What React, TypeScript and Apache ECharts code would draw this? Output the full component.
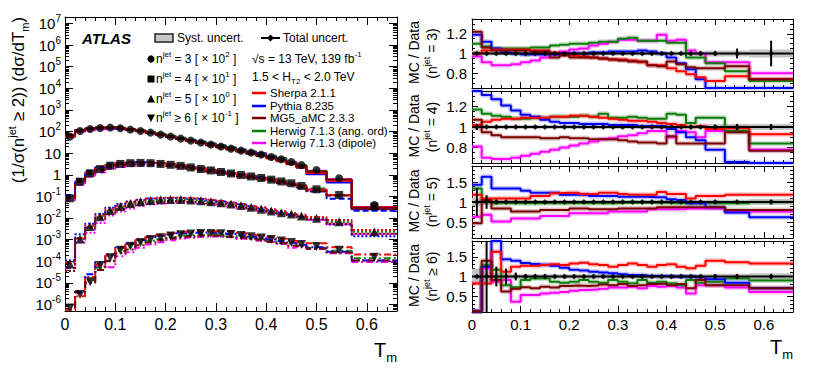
import React, { useEffect, useRef } from 'react';
import * as echarts from 'echarts';

// ---------------- data ----------------
const binEdges = [0, 0.02, 0.04, 0.06, 0.08, 0.1, 0.12, 0.14, 0.16, 0.18, 0.2, 0.22, 0.24, 0.26, 0.28, 0.3, 0.32, 0.34, 0.36, 0.38, 0.4, 0.42, 0.44, 0.46, 0.48, 0.52, 0.57, 0.66];
const xTickLabels = [0, 0.1, 0.2, 0.3, 0.4, 0.5, 0.6];
const logTickExponents = [-6, -5, -4, -3, -2, -1, 0, 1, 2, 3, 4, 5, 6, 7];
const ratioTicksNarrow = [0.8, 1, 1.2];
const ratioTicksWide = [0.5, 1, 1.5];

const generators = ['Sherpa 2.1.1', 'Pythia 8.235', 'MG5_aMC 2.3.3', 'Herwig 7.1.3 (ang. ord)', 'Herwig 7.1.3 (dipole)'];
const nJetLabels = ['n{sup|jet} = 3 [ × 10{sup|2} ]', 'n{sup|jet} = 4 [ × 10{sup|1} ]', 'n{sup|jet} = 5 [ × 10{sup|0} ]', 'n{sup|jet} ≥ 6 [ × 10{sup|-1} ]'];
const ratioTitles = ['(n{sup|jet} = 3)', '(n{sup|jet} = 4)', '(n{sup|jet} = 5)', '(n{sup|jet} ≥ 6)'];
const nJetScales = [1e2, 1e1, 1e0, 1e-1];

// normalised cross sections (1/sigma(n>=2)) dsigma/dTm, unscaled
const dataNj3 = [0.583, 1.07, 1.32, 1.47, 1.52, 1.42, 1.23, 1.07, 0.894, 0.721, 0.583, 0.471, 0.381, 0.308, 0.249, 0.201, 0.162, 0.131, 0.106, 0.0857, 0.0668, 0.0521, 0.0393, 0.0285, 0.0168, 0.00692, 0.000403];
const dataNj4 = [0.00822, 0.0482, 0.118, 0.186, 0.265, 0.318, 0.345, 0.355, 0.345, 0.318, 0.29, 0.258, 0.219, 0.186, 0.159, 0.135, 0.115, 0.0984, 0.0838, 0.0715, 0.0596, 0.0492, 0.0406, 0.0305, 0.0214, 0.0117, 0.00336];
const dataNj5 = [7.5e-5, 0.00108, 0.00408, 0.0116, 0.0224, 0.0344, 0.0472, 0.0573, 0.065, 0.0702, 0.0723, 0.0723, 0.0686, 0.0637, 0.0573, 0.0514, 0.0448, 0.0382, 0.0316, 0.0255, 0.0213, 0.0177, 0.0155, 0.0125, 0.00977, 0.00681, 0.00234];
const dataNj6 = [6.9e-6, 2.92e-5, 1.14e-4, 6.41e-4, 1.46e-3, 3.24e-3, 4.95e-3, 7.43e-3, 0.0102, 0.0124, 0.0148, 0.017, 0.0184, 0.0194, 0.0194, 0.019, 0.0174, 0.0156, 0.0136, 0.012, 0.0102, 0.00871, 0.00743, 0.006, 0.00484, 0.00324, 0.00153];

// MC / Data ratios
const sherpaNj3 = [1.00, 1.03, 1.04, 1.04, 1.04, 1.04, 1.03, 1.03, 1.01, 0.99, 0.98, 0.97, 0.96, 0.95, 0.94, 0.94, 0.93, 0.91, 0.88, 0.88, 0.85, 0.82, 0.79, 0.76, 0.72, 0.77, 0.74];
const pythiaNj3 = [1.19, 1.12, 1.05, 1.01, 1.00, 0.99, 0.99, 0.99, 0.99, 1.00, 1.00, 1.00, 1.01, 1.01, 1.02, 1.02, 1.02, 1.03, 1.02, 1.00, 0.96, 0.90, 0.84, 0.74, 0.64, 0.64, 0.64];
const mg5Nj3 = [1.22, 1.06, 1.03, 1.03, 1.03, 1.03, 1.02, 1.02, 0.96, 0.98, 0.96, 0.96, 0.96, 0.95, 0.94, 0.93, 0.92, 0.92, 0.88, 0.87, 0.92, 0.89, 0.86, 0.85, 0.85, 0.87, 0.74];
const herwigAngNj3 = [1.10, 1.07, 1.05, 1.05, 1.05, 1.05, 1.06, 1.06, 1.08, 1.09, 1.10, 1.10, 1.11, 1.12, 1.12, 1.15, 1.16, 1.13, 1.13, 1.13, 1.11, 1.11, 0.96, 0.96, 0.90, 0.82, 0.72];
const herwigDipNj3 = [0.97, 0.91, 0.88, 0.88, 0.89, 0.91, 0.93, 0.96, 0.99, 1.02, 1.04, 1.05, 1.08, 1.10, 1.12, 1.14, 1.14, 1.13, 1.13, 1.19, 1.13, 1.14, 1.03, 1.00, 0.91, 0.91, 0.80];

const sherpaNj4 = [1.02, 1.05, 1.07, 1.08, 1.08, 1.09, 1.09, 1.09, 1.10, 1.10, 1.11, 1.11, 1.10, 1.09, 1.08, 1.07, 1.06, 1.06, 1.05, 1.04, 1.03, 1.02, 1.00, 1.01, 0.98, 0.99, 0.93];
const pythiaNj4 = [1.40, 1.31, 1.27, 1.21, 1.16, 1.12, 1.10, 1.07, 1.05, 1.04, 1.04, 1.03, 1.03, 1.03, 1.02, 1.02, 1.02, 1.01, 1.01, 1.01, 0.98, 0.95, 0.90, 0.87, 0.78, 0.66, 0.64];
const mg5Nj4 = [1.07, 0.95, 0.92, 0.90, 0.90, 0.90, 0.90, 0.89, 0.89, 0.90, 0.89, 0.89, 0.88, 0.88, 0.88, 0.87, 0.86, 0.85, 0.85, 0.84, 0.91, 0.84, 0.84, 0.84, 0.84, 0.95, 0.77];
const herwigAngNj4 = [1.17, 1.13, 1.11, 1.10, 1.08, 1.08, 1.09, 1.09, 1.10, 1.10, 1.10, 1.11, 1.10, 1.13, 1.09, 1.09, 1.10, 1.09, 1.08, 1.08, 1.13, 1.12, 1.04, 1.09, 1.09, 0.96, 0.84];
const herwigDipNj4 = [0.81, 0.70, 0.69, 0.69, 0.70, 0.72, 0.74, 0.76, 0.78, 0.80, 0.82, 0.84, 0.86, 0.88, 0.89, 0.91, 0.92, 0.94, 0.96, 0.96, 0.90, 0.96, 0.95, 0.90, 0.96, 0.96, 0.78];

const sherpaNj5 = [1.18, 1.09, 1.09, 1.09, 1.09, 1.09, 1.15, 1.15, 1.22, 1.23, 1.23, 1.20, 1.20, 1.23, 1.23, 1.20, 1.18, 1.18, 1.18, 1.25, 1.20, 1.20, 1.09, 1.15, 1.15, 1.18, 1.18];
const pythiaNj5 = [1.43, 1.63, 1.34, 1.34, 1.34, 1.28, 1.23, 1.23, 1.23, 1.18, 1.18, 1.18, 1.15, 1.15, 1.15, 1.13, 1.13, 1.13, 1.12, 1.12, 1.07, 1.05, 0.97, 0.97, 0.87, 0.74, 0.62];
const mg5Nj5 = [0.47, 1.05, 0.84, 0.84, 0.76, 0.76, 0.76, 0.80, 0.80, 0.80, 0.84, 0.84, 0.82, 0.82, 0.82, 0.84, 0.84, 0.84, 0.84, 0.87, 0.87, 0.87, 0.87, 0.87, 0.87, 0.80, 0.80];
const herwigAngNj5 = [1.34, 1.01, 0.97, 0.97, 0.97, 0.97, 0.97, 0.97, 0.97, 0.97, 0.97, 0.97, 0.97, 0.97, 0.97, 0.98, 0.98, 0.98, 0.98, 0.98, 0.97, 0.97, 0.97, 0.97, 0.97, 0.97, 1.00];
const herwigDipNj5 = [0.63, 0.68, 0.51, 0.51, 0.59, 0.59, 0.59, 0.65, 0.65, 0.65, 0.72, 0.72, 0.72, 0.72, 0.76, 0.76, 0.76, 0.76, 0.82, 0.82, 0.82, 0.82, 0.84, 0.84, 0.84, 0.76, 0.76];

const sherpaNj6 = [0.82, 0.82, 1.63, 1.12, 1.25, 1.27, 1.27, 1.29, 1.31, 1.29, 1.33, 1.35, 1.31, 1.29, 1.25, 1.29, 1.33, 1.29, 1.25, 1.29, 1.31, 1.25, 1.21, 1.27, 1.40, 1.36, 1.33];
const pythiaNj6 = [0.12, 1.25, 2.20, 1.44, 1.40, 1.34, 1.32, 1.30, 1.27, 1.22, 1.17, 1.15, 1.12, 1.10, 1.08, 1.06, 1.04, 1.03, 1.01, 1.01, 1.00, 1.00, 1.00, 0.98, 0.93, 0.84, 0.70];
const mg5Nj6 = [0.12, 1.40, 0.91, 0.62, 0.69, 0.73, 0.70, 0.74, 0.72, 0.76, 0.77, 0.76, 0.77, 0.80, 0.78, 0.81, 0.76, 0.78, 0.81, 0.82, 0.78, 0.81, 0.70, 0.91, 0.78, 0.78, 0.70];
const herwigAngNj6 = [0.12, 1.30, 1.17, 0.78, 0.73, 0.91, 0.95, 0.95, 0.87, 0.84, 0.87, 0.91, 0.87, 0.84, 0.91, 0.87, 0.83, 0.91, 0.84, 0.87, 0.83, 0.78, 0.91, 0.84, 0.87, 0.95, 0.90];
const herwigDipNj6 = [0.12, 1.20, 0.87, 0.91, 0.36, 0.53, 0.53, 0.57, 0.59, 0.61, 0.64, 0.66, 0.67, 0.69, 0.72, 0.72, 0.74, 0.70, 0.76, 0.74, 0.76, 0.72, 0.57, 0.78, 0.78, 0.72, 0.61];

// relative systematic (band) and total (error bar) uncertainties of the data
const systNj3 = [0.03, 0.02, 0.02, 0.02, 0.02, 0.02, 0.02, 0.02, 0.02, 0.02, 0.02, 0.02, 0.02, 0.02, 0.02, 0.02, 0.02, 0.02, 0.02, 0.02, 0.02, 0.02, 0.02, 0.02, 0.03, 0.03, 0.04];
const systNj4 = [0.03, 0.02, 0.02, 0.02, 0.02, 0.02, 0.02, 0.02, 0.02, 0.02, 0.02, 0.02, 0.02, 0.02, 0.02, 0.02, 0.02, 0.02, 0.02, 0.02, 0.02, 0.02, 0.02, 0.02, 0.03, 0.03, 0.03];
const systNj5 = [0.10, 0.08, 0.06, 0.05, 0.05, 0.05, 0.05, 0.05, 0.05, 0.05, 0.05, 0.05, 0.05, 0.05, 0.05, 0.05, 0.05, 0.05, 0.05, 0.05, 0.05, 0.05, 0.05, 0.05, 0.06, 0.06, 0.07];
const systNj6 = [0.20, 0.15, 0.10, 0.08, 0.07, 0.06, 0.06, 0.06, 0.06, 0.06, 0.06, 0.06, 0.06, 0.06, 0.06, 0.06, 0.06, 0.06, 0.06, 0.06, 0.06, 0.06, 0.06, 0.06, 0.07, 0.07, 0.08];
const errNj3 = [0.015, 0.01, 0.01, 0.01, 0.01, 0.01, 0.01, 0.01, 0.01, 0.01, 0.01, 0.01, 0.01, 0.01, 0.01, 0.01, 0.01, 0.01, 0.01, 0.01, 0.01, 0.01, 0.015, 0.02, 0.02, 0.05, 0.13];
const errNj4 = [0.03, 0.01, 0.01, 0.01, 0.01, 0.01, 0.01, 0.01, 0.01, 0.01, 0.01, 0.01, 0.01, 0.01, 0.01, 0.01, 0.01, 0.01, 0.01, 0.01, 0.01, 0.01, 0.015, 0.015, 0.02, 0.03, 0.03];
const errNj5 = [0.35, 0.17, 0.06, 0.04, 0.03, 0.03, 0.03, 0.03, 0.03, 0.03, 0.03, 0.03, 0.03, 0.03, 0.03, 0.03, 0.03, 0.03, 0.03, 0.03, 0.03, 0.03, 0.03, 0.03, 0.04, 0.04, 0.05];
const errNj6 = [0, 1.2, 0.25, 0.2, 0.1, 0.06, 0.05, 0.05, 0.04, 0.04, 0.04, 0.04, 0.04, 0.04, 0.04, 0.04, 0.04, 0.04, 0.04, 0.04, 0.04, 0.04, 0.04, 0.04, 0.05, 0.06, 0.06];

// ---------------- styling ----------------
const FONT = '"Liberation Sans", Arial, Helvetica, sans-serif';
const genColors = ['#ff0000', '#0000ff', '#7a0000', '#0b7d0b', '#ff00ff'];
const nJetDash: any[] = ['solid', [6, 3], [2, 2], [7, 3, 2, 3]];
const nJetSymbol = ['circle', 'rect', 'triangle', 'triangle'];
const nJetSymbolSize = [8, 8, 9, 9];
const drawOrder = [4, 3, 1, 0, 2];

const dataSets = [dataNj3, dataNj4, dataNj5, dataNj6];
const ratioSets = [
  [sherpaNj3, pythiaNj3, mg5Nj3, herwigAngNj3, herwigDipNj3],
  [sherpaNj4, pythiaNj4, mg5Nj4, herwigAngNj4, herwigDipNj4],
  [sherpaNj5, pythiaNj5, mg5Nj5, herwigAngNj5, herwigDipNj5],
  [sherpaNj6, pythiaNj6, mg5Nj6, herwigAngNj6, herwigDipNj6],
];
const systSets = [systNj3, systNj4, systNj5, systNj6];
const errSets = [errNj3, errNj4, errNj5, errNj6];

const X_MAX = 0.66;
const Y_LOG_MIN = Math.log10(5e-7);
const Y_LOG_MAX = Math.log10(2e7);

const panels = [
  { top: 19, height: 69, min: 0.65, max: 1.35, major: ratioTicksNarrow, step: 0.05 },
  { top: 91, height: 72, min: 0.65, max: 1.35, major: ratioTicksNarrow, step: 0.05 },
  { top: 166, height: 72, min: 0.1, max: 1.9, major: ratioTicksWide, step: 0.1 },
  { top: 241, height: 71, min: 0.1, max: 1.9, major: ratioTicksWide, step: 0.1 },
];

function gridRange(a: number, b: number, step: number) {
  const out: number[] = [];
  for (let v = a; v <= b + 1e-9; v += step) out.push(Math.round(v * 1000) / 1000);
  return out;
}

function frame(gridIndex: number, dir: 'x' | 'y', min: number, max: number, major: number[], minor: number[], majorLen: number, minorLen: number, label: any) {
  const isX = dir === 'x';
  const posA = isX ? 'bottom' : 'left';
  const posB = isX ? 'top' : 'right';
  const base = { type: 'value', gridIndex, min, max, splitLine: { show: false }, minorTick: { show: false }, minorSplitLine: { show: false } };
  const line = (show: boolean) => ({ show, onZero: false, lineStyle: { color: '#000', width: 1 } });
  const tick = (vals: number[], len: number) => ({ show: true, inside: true, length: len, customValues: vals, lineStyle: { color: '#000', width: 1 } });
  return [
    { ...base, position: posA, axisLine: line(true), axisTick: tick(major, majorLen), axisLabel: label ? { show: true, customValues: major, ...label } : { show: false } },
    { ...base, position: posA, axisLine: line(false), axisTick: tick(minor, minorLen), axisLabel: { show: false } },
    { ...base, position: posB, axisLine: line(true), axisTick: tick(major, majorLen), axisLabel: { show: false } },
    { ...base, position: posB, axisLine: line(false), axisTick: tick(minor, minorLen), axisLabel: { show: false } },
  ];
}

function steps(vals: number[]) {
  const pts: number[][] = [];
  vals.forEach((v, i) => {
    pts.push([binEdges[i], v]);
    pts.push([binEdges[i + 1], v]);
  });
  return pts;
}

function txt(x: number, y: number, text: string, size: number, opts: any = {}) {
  const small = Math.round(size * 0.66);
  const align = opts.align || 'left';
  return {
    type: 'text',
    x,
    y,
    rotation: opts.rotation || 0,
    silent: true,
    z: 100,
    style: {
      text,
      fill: '#000',
      fontSize: size,
      fontFamily: FONT,
      fontWeight: opts.weight || 'normal',
      fontStyle: opts.fontStyle || 'normal',
      lineHeight: Math.round(size * 1.4),
      align,
      textAlign: align,
      verticalAlign: 'middle',
      textVerticalAlign: 'middle',
      rich: {
        sup: { fontSize: small, fontFamily: FONT, fill: '#000', lineHeight: small, verticalAlign: 'top' },
        sub: { fontSize: small, fontFamily: FONT, fill: '#000', lineHeight: small, verticalAlign: 'bottom' },
      },
    },
  };
}

function buildOption() {
  const grid: any[] = [];
  const xAxis: any[] = [];
  const yAxis: any[] = [];
  const series: any[] = [];
  const graphic: any[] = [];

  const xMinor = gridRange(0, X_MAX, 0.02).filter((v) => Math.abs(v * 10 - Math.round(v * 10)) > 1e-6);
  const logMinor: number[] = [];
  for (let n = -7; n <= 7; n++) for (let k = 2; k <= 9; k++) {
    const v = n + Math.log10(k);
    if (v > Y_LOG_MIN && v < Y_LOG_MAX) logMinor.push(v);
  }
  const centers = binEdges.slice(0, -1).map((e, i) => (e + binEdges[i + 1]) / 2);
  const fmtX = (v: number) => (v === 0 ? '0' : v.toFixed(1));

  // ---------- left panel ----------
  grid.push({ left: 65, top: 17, width: 332, height: 294, outerBoundsMode: 'none' });
  xAxis.push(...frame(0, 'x', 0, X_MAX, xTickLabels, xMinor, 8, 4, { fontSize: 16, fontFamily: FONT, color: '#000', margin: 5, formatter: fmtX }));
  yAxis.push(...frame(0, 'y', Y_LOG_MIN, Y_LOG_MAX, logTickExponents, logMinor, 8, 4, {
    fontSize: 15, fontFamily: FONT, color: '#000', margin: 4, lineHeight: 20,
    formatter: (v: number) => {
      const n = Math.round(v);
      if (n === 0) return '1';
      if (n === 1) return '10';
      return '10{s|' + n + '}';
    },
    rich: { s: { fontSize: 10, lineHeight: 10, verticalAlign: 'top', fontFamily: FONT, color: '#000' } },
  }));

  dataSets.forEach((d, k) => {
    drawOrder.forEach((g) => {
      const r = ratioSets[k][g];
      series.push({
        type: 'line', xAxisIndex: 0, yAxisIndex: 0, symbol: 'none', silent: true, z: 2 + (g === 2 ? 1 : 0),
        data: steps(d.map((v, i) => Math.log10(v * r[i] * nJetScales[k]))),
        lineStyle: { color: genColors[g], width: 2, type: nJetDash[k] },
      });
    });
  });
  dataSets.forEach((d, k) => {
    series.push({
      type: 'scatter', xAxisIndex: 0, yAxisIndex: 0, silent: true, z: 6,
      symbol: nJetSymbol[k], symbolRotate: k === 3 ? 180 : 0, symbolSize: nJetSymbolSize[k],
      itemStyle: { color: '#000' },
      data: d.map((v, i) => [centers[i], Math.log10(v * nJetScales[k])]),
    });
  });

  // ---------- ratio panels ----------
  panels.forEach((p, k) => {
    const gi = k + 1;
    const ax = 4 * gi;
    grid.push({ left: 472, top: p.top, width: 321, height: p.height, outerBoundsMode: 'none' });
    xAxis.push(...frame(gi, 'x', 0, X_MAX, xTickLabels, xMinor, 6, 3, k === 3 ? { fontSize: 15, fontFamily: FONT, color: '#000', margin: 5, formatter: fmtX } : null));
    const yMinor = gridRange(p.min, p.max, p.step).filter((v) => v > p.min + 1e-6 && v < p.max - 1e-6 && !p.major.some((m) => Math.abs(m - v) < 1e-6));
    yAxis.push(...frame(gi, 'y', p.min, p.max, p.major, yMinor, 6, 3, { fontSize: 15, fontFamily: FONT, color: '#000', margin: 5, formatter: (v: number) => String(v) }));

    const clamp = (v: number) => Math.min(p.max, Math.max(p.min, v));

    series.push({
      type: 'custom', xAxisIndex: ax, yAxisIndex: ax, silent: true, z: 1, clip: true,
      data: systSets[k].map((s, i) => [binEdges[i], binEdges[i + 1], s]),
      renderItem: (params: any, api: any) => {
        const a = api.coord([api.value(0), 1 + api.value(2)]);
        const b = api.coord([api.value(1), 1 - api.value(2)]);
        return { type: 'rect', shape: { x: a[0], y: a[1], width: b[0] - a[0], height: b[1] - a[1] }, style: { fill: '#c4c4c4' } };
      },
    });

    drawOrder.forEach((g) => {
      const pts = steps(ratioSets[k][g].map(clamp));
      series.push({ type: 'line', xAxisIndex: ax, yAxisIndex: ax, symbol: 'none', silent: true, z: 2, data: pts, lineStyle: { color: genColors[g], width: 5, opacity: 0.22 } });
      series.push({ type: 'line', xAxisIndex: ax, yAxisIndex: ax, symbol: 'none', silent: true, z: 3, data: pts, lineStyle: { color: genColors[g], width: 2 } });
    });

    series.push({ type: 'line', xAxisIndex: ax, yAxisIndex: ax, symbol: 'none', silent: true, z: 4, data: [[0, 1], [X_MAX, 1]], lineStyle: { color: '#000', width: 2 } });

    series.push({
      type: 'custom', xAxisIndex: ax, yAxisIndex: ax, silent: true, z: 5, clip: true,
      data: errSets[k].map((e, i) => [centers[i], e]),
      renderItem: (params: any, api: any) => {
        const c = api.value(0);
        const e = api.value(1);
        const a = api.coord([c, clamp(1 + e)]);
        const b = api.coord([c, clamp(1 - e)]);
        return { type: 'line', shape: { x1: a[0], y1: a[1], x2: b[0], y2: b[1] }, style: { stroke: '#000', lineWidth: 2 } };
      },
    });
    series.push({
      type: 'scatter', xAxisIndex: ax, yAxisIndex: ax, silent: true, z: 6, symbol: 'diamond', symbolSize: 6,
      itemStyle: { color: '#000' }, data: centers.map((c) => [c, 1]),
    });

    const cy = p.top + p.height / 2 - 1;
    graphic.push(txt(414, cy, 'MC / Data', 14, { rotation: Math.PI / 2, align: 'center' }));
    graphic.push(txt(432, cy + 1, ratioTitles[k], 14, { rotation: Math.PI / 2, align: 'center' }));
  });

  // ---------- texts & legend ----------
  graphic.push(txt(18, 100, '(1/σ(n{sup|jet} ≥ 2)) (dσ/dT{sub|m})', 17, { rotation: Math.PI / 2, align: 'center' }));
  graphic.push(txt(397, 350, 'T{sub|m}', 20, { align: 'right' }));
  graphic.push(txt(793, 347, 'T{sub|m}', 20, { align: 'right' }));

  graphic.push(txt(82, 38, 'ATLAS', 15, { weight: 'bold', fontStyle: 'italic' }));
  graphic.push({ type: 'rect', silent: true, z: 100, shape: { x: 155, y: 34, width: 18, height: 8 }, style: { fill: '#c6c6c6', stroke: '#222', lineWidth: 1.5 } });
  graphic.push(txt(177, 38, 'Syst. uncert.', 12));
  graphic.push({ type: 'line', silent: true, z: 100, shape: { x1: 261, y1: 38, x2: 280, y2: 38 }, style: { stroke: '#000', lineWidth: 2 } });
  graphic.push({ type: 'polygon', silent: true, z: 101, shape: { points: [[270.5, 34.5], [274, 38], [270.5, 41.5], [267, 38]] }, style: { fill: '#000' } });
  graphic.push(txt(283, 38, 'Total uncert.', 12));

  const rowY = [59, 79, 99, 118];
  graphic.push({ type: 'circle', silent: true, z: 100, shape: { cx: 151, cy: rowY[0], r: 3.6 }, style: { fill: '#000' } });
  graphic.push({ type: 'rect', silent: true, z: 100, shape: { x: 147.5, y: rowY[1] - 3.5, width: 7, height: 7 }, style: { fill: '#000' } });
  graphic.push({ type: 'polygon', silent: true, z: 100, shape: { points: [[151, rowY[2] - 4], [155, rowY[2] + 3.5], [147, rowY[2] + 3.5]] }, style: { fill: '#000' } });
  graphic.push({ type: 'polygon', silent: true, z: 100, shape: { points: [[147, rowY[3] - 3.5], [155, rowY[3] - 3.5], [151, rowY[3] + 4]] }, style: { fill: '#000' } });
  nJetLabels.forEach((t, k) => graphic.push(txt(156, rowY[k], t, 12)));

  graphic.push(txt(252, 59, '√s = 13 TeV, 139 fb{sup|-1}', 12));
  graphic.push(txt(252, 77, '1.5 < H{sub|T2} < 2.0 TeV', 12));

  const legY = [93, 106, 118, 131, 143];
  generators.forEach((name, g) => {
    graphic.push({ type: 'line', silent: true, z: 100, shape: { x1: 252, y1: legY[g], x2: 266, y2: legY[g] }, style: { stroke: genColors[g], lineWidth: 2.5 } });
    graphic.push(txt(270, legY[g], name, 11.5));
  });

  return {
    animation: false,
    backgroundColor: '#ffffff',
    grid,
    xAxis,
    yAxis,
    series,
    graphic: { elements: graphic },
  };
}

export default function App() {
  const ref = useRef<HTMLDivElement>(null);
  useEffect(() => {
    if (!ref.current) return;
    const chart = echarts.init(ref.current, undefined, { renderer: 'svg' });
    chart.setOption(buildOption() as any);
    return () => chart.dispose();
  }, []);
  return <div ref={ref} style={{ position: 'absolute', left: 0, top: 0, width: 814, height: 386, background: '#fff' }} />;
}
